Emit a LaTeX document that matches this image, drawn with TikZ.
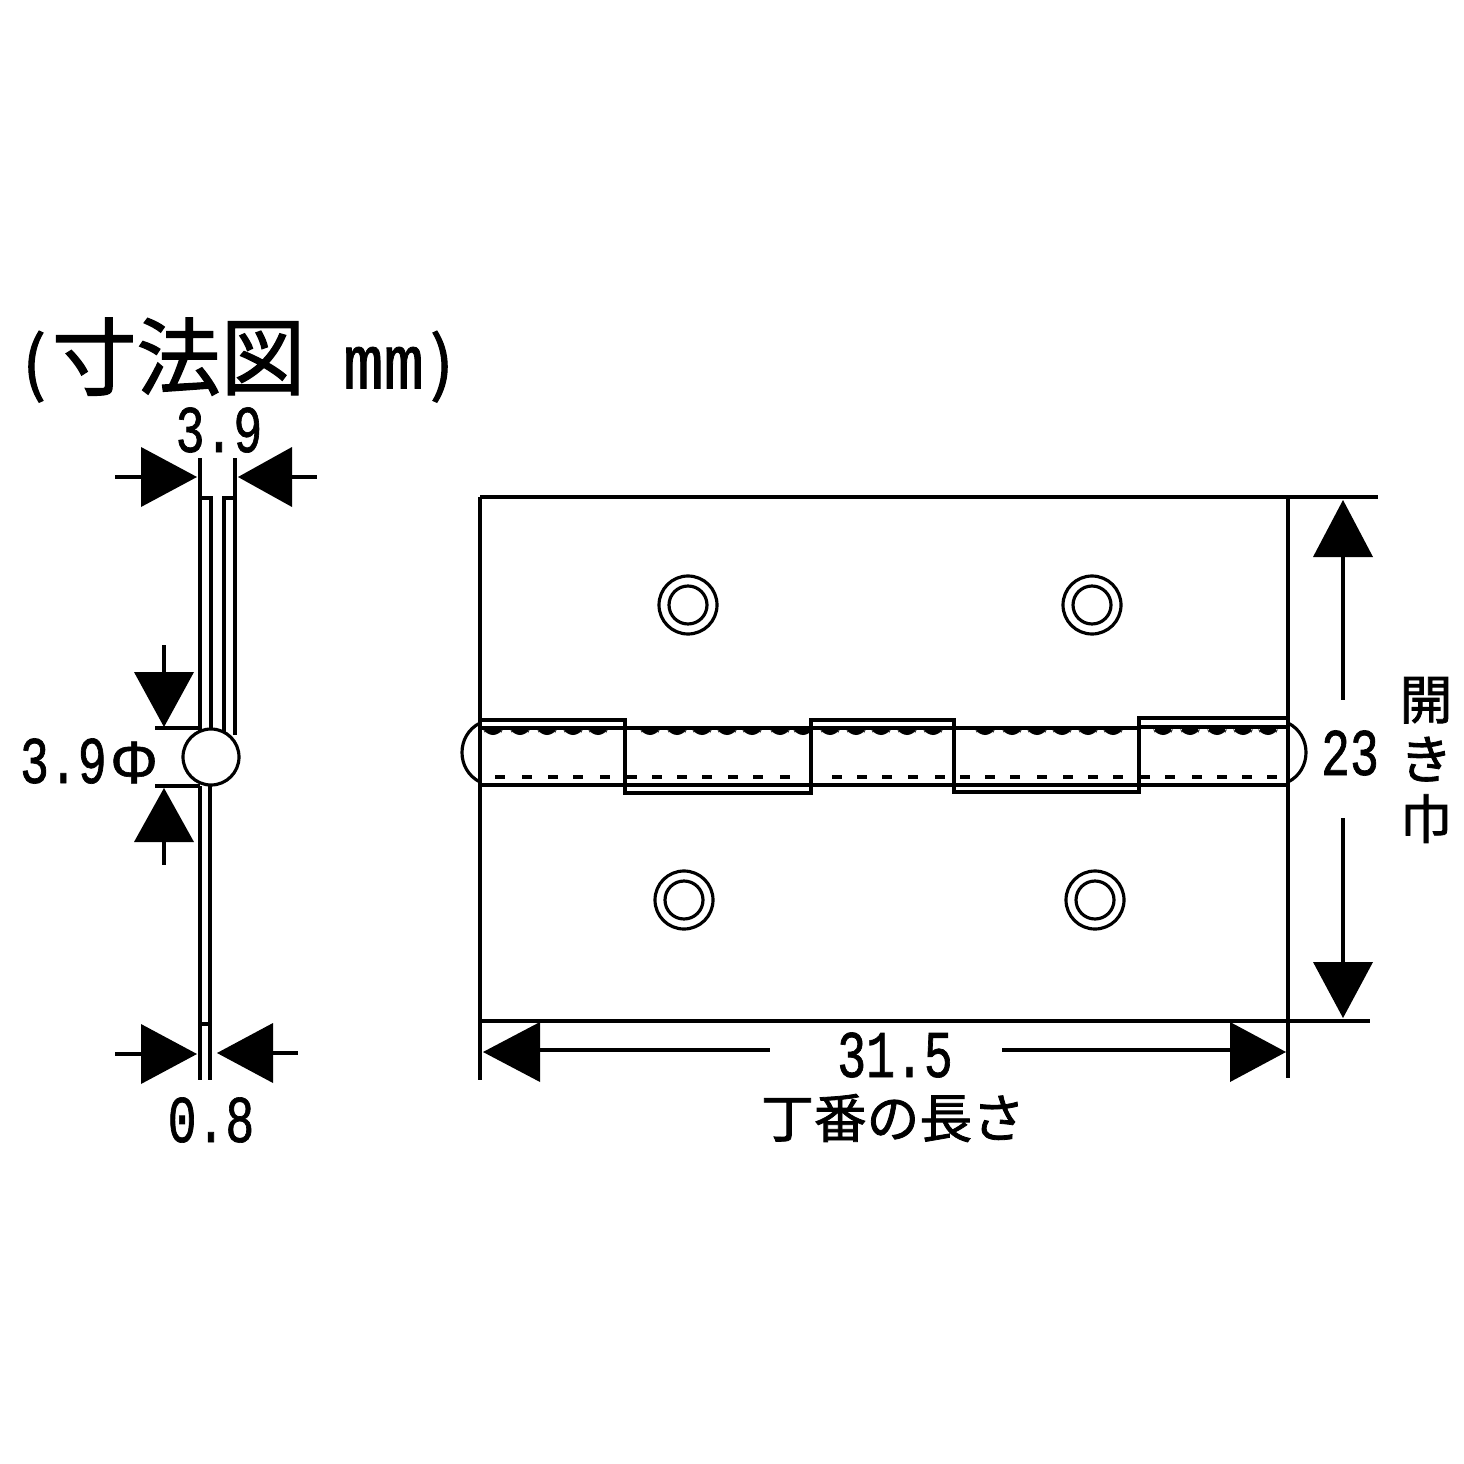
\documentclass[tikz,border=0pt]{standalone}
\usepackage{fontspec}
\usepackage{tikz}
\newfontfamily\jpfont[FakeBold=1.5]{Noto Sans CJK JP}
\newfontfamily\dimfont[FakeStretch=0.72,FakeBold=1]{Liberation Mono}
\newfontfamily\unitfont[FakeStretch=0.87,FakeBold=1]{Liberation Mono}
\newfontfamily\phifont[FakeBold=1]{Liberation Sans}
\tikzset{
  part/.style={line width=0.9pt},
  dimlabel/.style={font=\dimfont\fontsize{19}{19}\selectfont, inner sep=0pt},
  jplabel/.style={font=\jpfont\fontsize{15}{17}\selectfont, inner sep=0pt, align=center},
  tip/.style={fill=black}
}

\begin{document}
\begin{tikzpicture}[x=0.01cm, y=-0.01cm, part]
\useasboundingbox (0,0) rectangle (1464,1464);

\node[font=\jpfont\fontsize{24}{24}\selectfont, inner sep=0pt] (title) at (238,360) {{\fontsize{20}{20}\selectfont (}\hspace{1.7pt}寸法図\hspace{10.8pt}{\unitfont\fontsize{22}{22}\selectfont mm}\hspace{1.7pt}{\fontsize{20}{20}\selectfont )}};

% side view
\draw (200,458) -- (200,735);
\draw (235,458) -- (235,735);
\draw (200,498) -- (211,498) -- (211,735);
\draw (235,498) -- (224,498) -- (224,735);
\draw (200,786) -- (200,1080);
\draw (210,786) -- (210,1080);
\draw (200,1024) -- (210,1024);
\draw[fill=white] (211,757) circle (28);
\draw (155,728) -- (200,728);
\draw (155,786) -- (200,786);

\draw (115,477) -- (141,477);
\fill[tip] (141,447) -- (141,507) -- (197,477) -- cycle;
\draw (292,477) -- (317,477);
\fill[tip] (292,447) -- (292,507) -- (238,477) -- cycle;
\node[dimlabel] (thick) at (219,430) {3.9};

\draw (164,645) -- (164,672);
\fill[tip] (134,672) -- (194,672) -- (164,727) -- cycle;
\draw (164,842) -- (164,865);
\fill[tip] (134,842) -- (194,842) -- (164,788) -- cycle;
\node[dimlabel] (pin) at (89,761) {3.9\hspace{1pt}{\phifont\fontsize{17}{17}\selectfont Φ}};

\draw (115,1054) -- (141,1054);
\fill[tip] (141,1024) -- (141,1084) -- (197,1054) -- cycle;
\draw (273,1053) -- (298,1053);
\fill[tip] (273,1023) -- (273,1083) -- (217,1053) -- cycle;
\node[dimlabel] (plate) at (211,1120) {0.8};

% front view
\draw (480,497) -- (1378,497);
\draw (480,1021) -- (1370,1021);
\draw (480,497) -- (480,1080);
\draw (1288,497) -- (1288,1078);

\draw (688,605) circle (29);
\draw (688,605) circle (19);
\draw (1092,605) circle (29);
\draw (1092,605) circle (19);
\draw (684,900) circle (29);
\draw (684,900) circle (19);
\draw (1095,900) circle (29);
\draw (1095,900) circle (19);

% knuckles
\draw (480,785) -- (1288,785);
\draw (480,720) -- (625,720) -- (625,793) -- (811,793) -- (811,720) -- (954,720) -- (954,792) -- (1139,792) -- (1139,718) -- (1288,718);
\draw (480,728) -- (625,728);
\draw (625,728) -- (811,728);
\draw (811,728) -- (954,728);
\draw (954,728) -- (1139,728);
\draw (1139,727) -- (1288,727);
\draw (480,723) .. controls (456,735) and (456,770) .. (480,782);
\draw (1288,723) .. controls (1312,735) and (1312,770) .. (1288,782);

\foreach \x in {493,520,547,573,598,830,856,881,907,933,1163,1190,1217,1243,1268,650,677,702,727,752,780,803,985,1012,1037,1062,1088,1113}
  \fill[rounded corners=2pt] (\x-11,727) -- (\x-7,735) -- (\x+7,735) -- (\x+11,727) -- cycle;
\foreach \x in {500,527,553,578,605,632,657,682,707,733,758,785,837,862,887,913,940,965,990,1015,1042,1068,1093,1118,1145,1170,1197,1222,1247,1272}
  \draw[line width=1.1pt] (\x-5,777) -- (\x+5,777);

% width dimension
\fill[tip] (1343,500) -- (1313,557) -- (1373,557) -- cycle;
\fill[tip] (1343,1018) -- (1313,962) -- (1373,962) -- cycle;
\draw (1343,557) -- (1343,700);
\draw (1343,818) -- (1343,962);
\node[dimlabel] (width) at (1350,753) {23};
\node[jplabel] (widthname) at (1426,760) {開\\き\\巾};

% length dimension
\fill[tip] (483,1052) -- (540,1022) -- (540,1082) -- cycle;
\fill[tip] (1286,1052) -- (1230,1022) -- (1230,1082) -- cycle;
\draw (540,1050) -- (770,1050);
\draw (1002,1050) -- (1230,1050);
\node[dimlabel] (length) at (895,1055) {31.5};
\node[jplabel] (lengthname) at (893,1118) {丁番の長さ};
\end{tikzpicture}
\end{document}
